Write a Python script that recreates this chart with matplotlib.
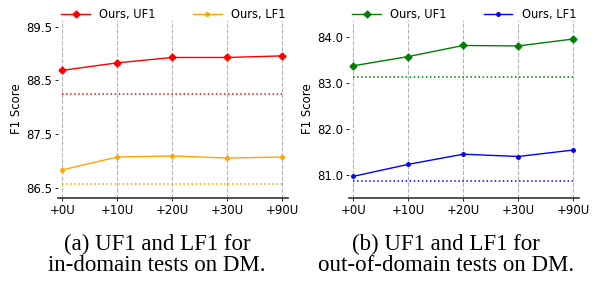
import numpy as np
import matplotlib
matplotlib.use('Agg')
import matplotlib.pyplot as plt

# data
labels = ['+0U', '+10U', '+20U', '+30U', '+90U']
dm_in_uf1 = [88.69, 88.83, 88.93, 88.93, 88.96]
dm_in_lf1 = [86.83, 87.07, 87.09, 87.05, 87.07]
dm_in_base_uf1 = 88.25
dm_in_base_lf1 = 86.56
dm_out_uf1 = [83.37, 83.57, 83.81, 83.80, 83.95]
dm_out_lf1 = [80.98, 81.24, 81.46, 81.41, 81.55]
dm_out_base_uf1 = 83.13
dm_out_base_lf1 = 80.88

fig = plt.figure(figsize=(5.97, 2.82), dpi=100)
ax1 = fig.add_axes([0.0977, 0.299, 0.3853, 0.63])
ax2 = fig.add_axes([0.5846, 0.299, 0.3858, 0.63])

def draw(ax, uf1, lf1, b_uf1, b_lf1, c_uf1, c_lf1, yticks, ylim):
    x = np.arange(len(labels))
    ax.plot(x, uf1, color=c_uf1, marker='D', markersize=3.5, linewidth=1, label='Ours, UF1')
    ax.plot(x, lf1, color=c_lf1, marker='o', markersize=2.5, linewidth=1, label='Ours, LF1')
    ax.plot(x, [b_uf1] * len(x), color=c_uf1, linestyle=':', linewidth=1.1)
    ax.plot(x, [b_lf1] * len(x), color=c_lf1, linestyle=':', linewidth=1.1)
    ax.set_xticks(x)
    ax.set_xticklabels(labels, fontsize=8.5)
    ax.set_yticks(yticks)
    ax.set_yticklabels(['%.1f' % v for v in yticks], fontsize=8.5)
    ax.set_ylim(*ylim)
    ax.set_xlim(-0.075, 4.11)
    ax.set_ylabel('F1 Score', fontsize=8.5, labelpad=2)
    ax.xaxis.grid(True, linestyle='--', color='gray', alpha=0.6, linewidth=0.8)
    for s in ['top', 'right', 'left']:
        ax.spines[s].set_visible(False)
    ax.spines['bottom'].set_color('#333333')
    ax.spines['bottom'].set_linewidth(1.2)
    ax.tick_params(axis='both', length=2.5, width=0.6, pad=2)
    ax.legend(loc='lower center', bbox_to_anchor=(0.5, 0.955), ncol=2, frameon=False,
              fontsize=8.3, columnspacing=3.2, handlelength=2.5, borderpad=0.1)

draw(ax1, dm_in_uf1, dm_in_lf1, dm_in_base_uf1, dm_in_base_lf1, 'red', 'orange',
     [86.5, 87.5, 88.5, 89.5], (86.31, 89.63))
draw(ax2, dm_out_uf1, dm_out_lf1, dm_out_base_uf1, dm_out_base_lf1, 'green', 'blue',
     [81.0, 82.0, 83.0, 84.0], (80.52, 84.36))

cap = dict(fontsize=16.5, family='Liberation Serif', ha='center', va='center', linespacing=1.0)
fig.text(0.263, 0.095, '(a) UF1 and LF1 for\nin-domain tests on DM.', **cap)
fig.text(0.747, 0.095, '(b) UF1 and LF1 for\nout-of-domain tests on DM.', **cap)

fig.savefig('out.png', dpi=100)
